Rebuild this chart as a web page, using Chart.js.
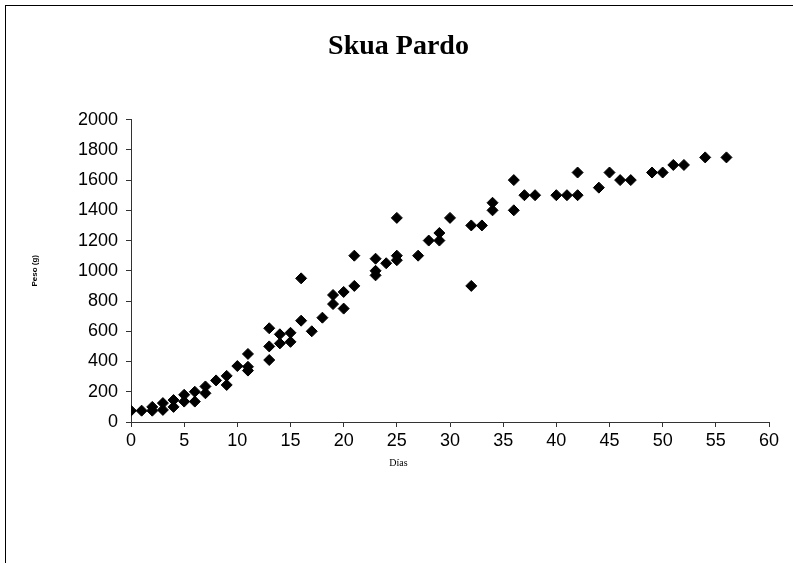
<!DOCTYPE html>
<html>
<head>
<meta charset="utf-8">
<title>Skua Pardo</title>
<script src="https://cdn.jsdelivr.net/npm/chart.js@4.4.0/dist/chart.umd.min.js"></script>
<style>
  html, body { margin: 0; padding: 0; background: #fff; }
  #wrap { position: relative; width: 793px; height: 563px; overflow: hidden; }
  #frame { position: absolute; left: 5px; top: 5px; width: 820px; height: 600px;
           border-left: 1px solid #000; border-top: 1px solid #000; }
  #chart { position: absolute; left: 0; top: 0; }
</style>
</head>
<body>
<div id="wrap">
  <div id="frame"></div>
  <canvas id="chart" width="793" height="563"></canvas>
</div>
<script>
// days since hatching and weight (g)
const days = [0, 1, 2, 2, 3, 3, 4, 4, 5, 5, 6, 6, 7, 7, 8, 9, 9, 10, 11, 11, 11,
  13, 13, 13, 14, 14, 15, 15, 16, 16, 17, 18, 19, 19, 20, 20, 21, 21,
  23, 23, 23, 24, 25, 25, 25, 27, 28, 29, 29, 30, 32, 32, 33, 34, 34,
  36, 36, 37, 38, 40, 41, 42, 42, 44, 45, 46, 47, 49, 50, 51, 52, 54, 56];
const weights = [75, 75, 100, 75, 125, 80, 145, 100, 180, 135, 200, 135, 235, 190, 275, 305, 245, 370, 450, 365, 340,
  620, 500, 410, 580, 520, 590, 530, 950, 670, 600, 690, 840, 780, 860, 750, 1100, 900,
  1080, 1000, 970, 1050, 1350, 1100, 1070, 1100, 1200, 1250, 1200, 1350, 1300, 900, 1300, 1450, 1400,
  1600, 1400, 1500, 1500, 1500, 1500, 1650, 1500, 1550, 1650, 1600, 1600, 1650, 1650, 1700, 1700, 1750, 1750];

const xMin = 0, xMax = 60, xStep = 5;
const yMin = 0, yMax = 2000, yStep = 200;

const titleText = 'Skua Pardo';
const xTitle = 'Días';
const yTitle = 'Peso (g)';

const points = days.map((d, i) => ({ x: d, y: weights[i] }));

const axisColor = '#333';

new Chart(document.getElementById('chart'), {
  type: 'scatter',
  data: {
    datasets: [{
      label: 'Peso',
      data: points,
      pointStyle: 'rectRot',
      pointRadius: 5.5,
      pointBorderWidth: 1,
      backgroundColor: '#000',
      borderColor: '#000'
    }]
  },
  options: {
    responsive: false,
    animation: false,
    layout: { padding: { left: 28, right: 24, top: 0, bottom: 0 } },
    plugins: {
      legend: { display: false },
      tooltip: { enabled: false },
      title: {
        display: true,
        text: titleText,
        color: '#000',
        font: { family: '"Liberation Serif", "Times New Roman", serif', size: 28, weight: 'bold' },
        padding: { top: 30, bottom: 56 }
      },
      subtitle: {
        display: true,
        position: 'bottom',
        text: xTitle,
        color: '#000',
        font: { family: '"Liberation Serif", "Times New Roman", serif', size: 10 },
        padding: { top: 0, bottom: 94 }
      }
    },
    scales: {
      x: {
        type: 'linear',
        min: xMin,
        max: xMax,
        afterFit: (scale) => { scale.height = 35; },
        border: { display: true, color: axisColor, width: 1 },
        grid: { display: true, drawOnChartArea: false, drawTicks: true, tickLength: 5, tickColor: axisColor },
        ticks: {
          stepSize: xStep,
          color: '#000',
          padding: 3,
          maxRotation: 0,
          callback: (v) => String(v),
          font: { family: '"Liberation Sans", Arial, sans-serif', size: 18 }
        }
      },
      y: {
        type: 'linear',
        min: yMin,
        max: yMax,
        afterFit: (scale) => { scale.width = 103; },
        border: { display: true, color: axisColor, width: 1 },
        grid: { display: true, drawOnChartArea: false, drawTicks: true, tickLength: 5, tickColor: axisColor },
        title: {
          display: true,
          text: yTitle,
          color: '#000',
          font: { family: '"Liberation Sans", Arial, sans-serif', size: 8, weight: 'bold' },
          padding: { top: 2, bottom: 0 }
        },
        ticks: {
          stepSize: yStep,
          color: '#000',
          padding: 8,
          callback: (v) => String(v),
          font: { family: '"Liberation Sans", Arial, sans-serif', size: 18 }
        }
      }
    }
  }
});
</script>
</body>
</html>
